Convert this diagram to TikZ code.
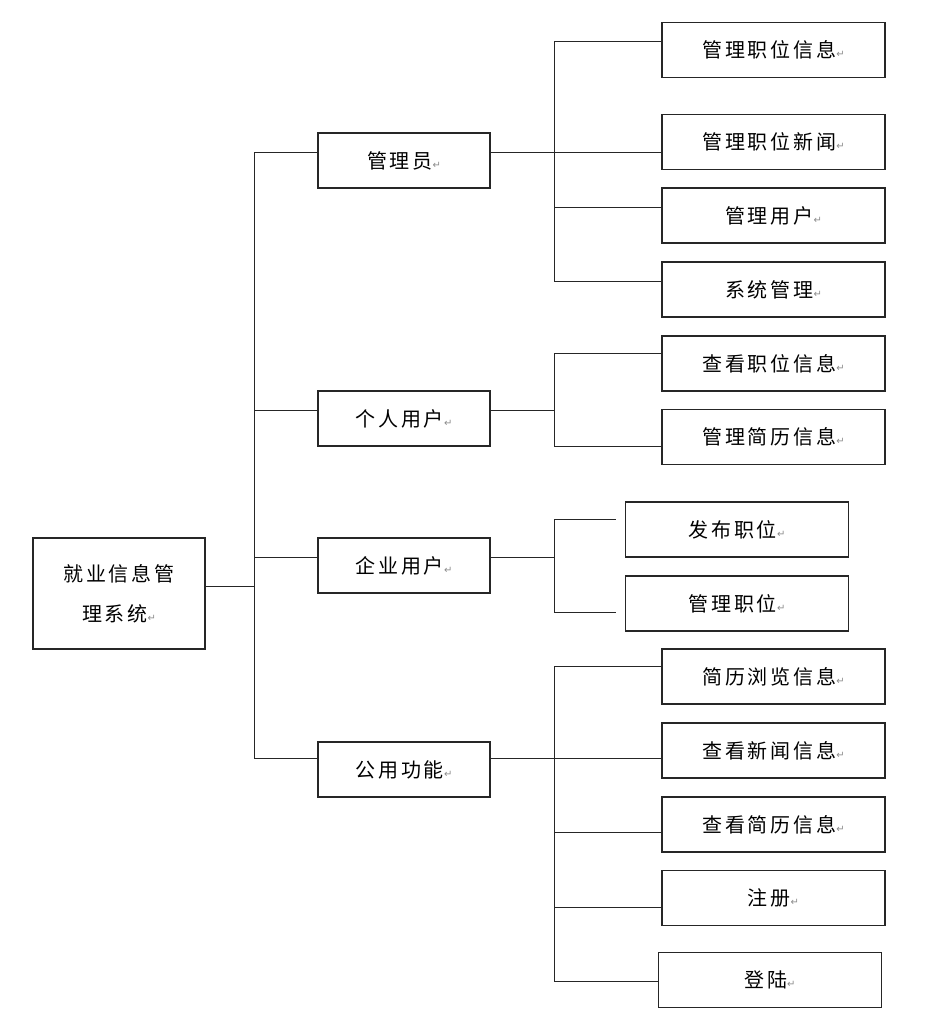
\documentclass[tikz,border=0pt]{standalone}
\usepackage{fontspec}
\usetikzlibrary{calc}
\newfontfamily\zh[LetterSpace=14]{Noto Sans CJK SC}
\newfontfamily\symf{DejaVu Sans}
\newcommand\pmark{{\symf\fontsize{10}{10}\selectfont\color{black!45}↵}}

\begin{document}
\begin{tikzpicture}[x=1pt,y=-1pt,line width=1pt,draw=black!85,
      box/.style={draw=black!85,line width=1.2pt,minimum width=172,minimum height=55,inner sep=0pt,
        font=\zh\fontsize{20}{40}\selectfont},
      leaf/.style={box,minimum width=223}]
      \useasboundingbox (0,0) rectangle (925,1031);
      \node[box,minimum height=111,align=center] (root) at (119,593.5) {就业信息管\\理系统\pmark};
      \node[box] (mgr) at (404,160.5) {管理员\pmark};
      \node[box] (per) at (404,418.5) {个人用户\pmark};
      \node[box] (ent) at (404,565.5) {企业用户\pmark};
      \node[box] (pub) at (404,769.5) {公用功能\pmark};
      \node[leaf] (l1) at (773.5,50) {管理职位信息\pmark};
      \node[leaf] (l2) at (773.5,142) {管理职位新闻\pmark};
      \node[leaf] (l3) at (773.5,215.5) {管理用户\pmark};
      \node[leaf] (l4) at (773.5,289.5) {系统管理\pmark};
      \node[leaf] (p1) at (773.5,363.5) {查看职位信息\pmark};
      \node[leaf] (p2) at (773.5,437) {管理简历信息\pmark};
      \node[leaf] (e1) at (737,529.5) {发布职位\pmark};
      \node[leaf] (e2) at (737,603.5) {管理职位\pmark};
      \node[leaf] (c1) at (773.5,676.5) {简历浏览信息\pmark};
      \node[leaf] (c2) at (773.5,750.5) {查看新闻信息\pmark};
      \node[leaf] (c3) at (773.5,824.5) {查看简历信息\pmark};
      \node[leaf] (c4) at (773.5,898) {注册\pmark};
      \node[leaf] (c5) at (770,980) {登陆\pmark};
      \coordinate (trunk) at (254,0);
      \coordinate (bus) at (554,0);
      \foreach \n/\f in {root/.44,mgr/.35,per/.35,ent/.35,pub/.31,l1/.34,l2/.68,l3/.35,l4/.35,
          p1/.33,p2/.67,e1/.33,e2/.66,c1/.33,c2/.65,c3/.65,c4/.66,c5/.52}
        \coordinate (\n-t) at ($(\n.north west)!\f!(\n.south west)$);
      % first level
      \draw (root-t -| root.east) -- (root-t -| trunk);
      \draw (mgr-t -| trunk) -- (pub-t -| trunk);
      \foreach \n in {mgr,per,ent,pub} \draw (\n-t -| trunk) -- (\n-t);
      % second level
      \draw (l1-t) -| (bus |- l4-t) -- (l4-t);
      \draw (mgr-t -| mgr.east) -- (mgr-t -| l2.west);
      \draw (l3-t -| bus) -- (l3-t);
      \draw (p1-t) -| (bus |- p2-t) -- (p2-t);
      \draw (per-t -| per.east) -- (per-t -| bus);
      \draw ([xshift=-9pt]e1-t) -| (bus |- e2-t) -- ([xshift=-9pt]e2-t);
      \draw (ent-t -| ent.east) -- (ent-t -| bus);
      \draw (c1-t) -| (bus |- c5-t) -- (c5-t);
      \draw (pub-t -| pub.east) -- (pub-t -| c2.west);
      \foreach \n in {c3,c4} \draw (\n-t -| bus) -- (\n-t);
    \end{tikzpicture}
\end{document}
